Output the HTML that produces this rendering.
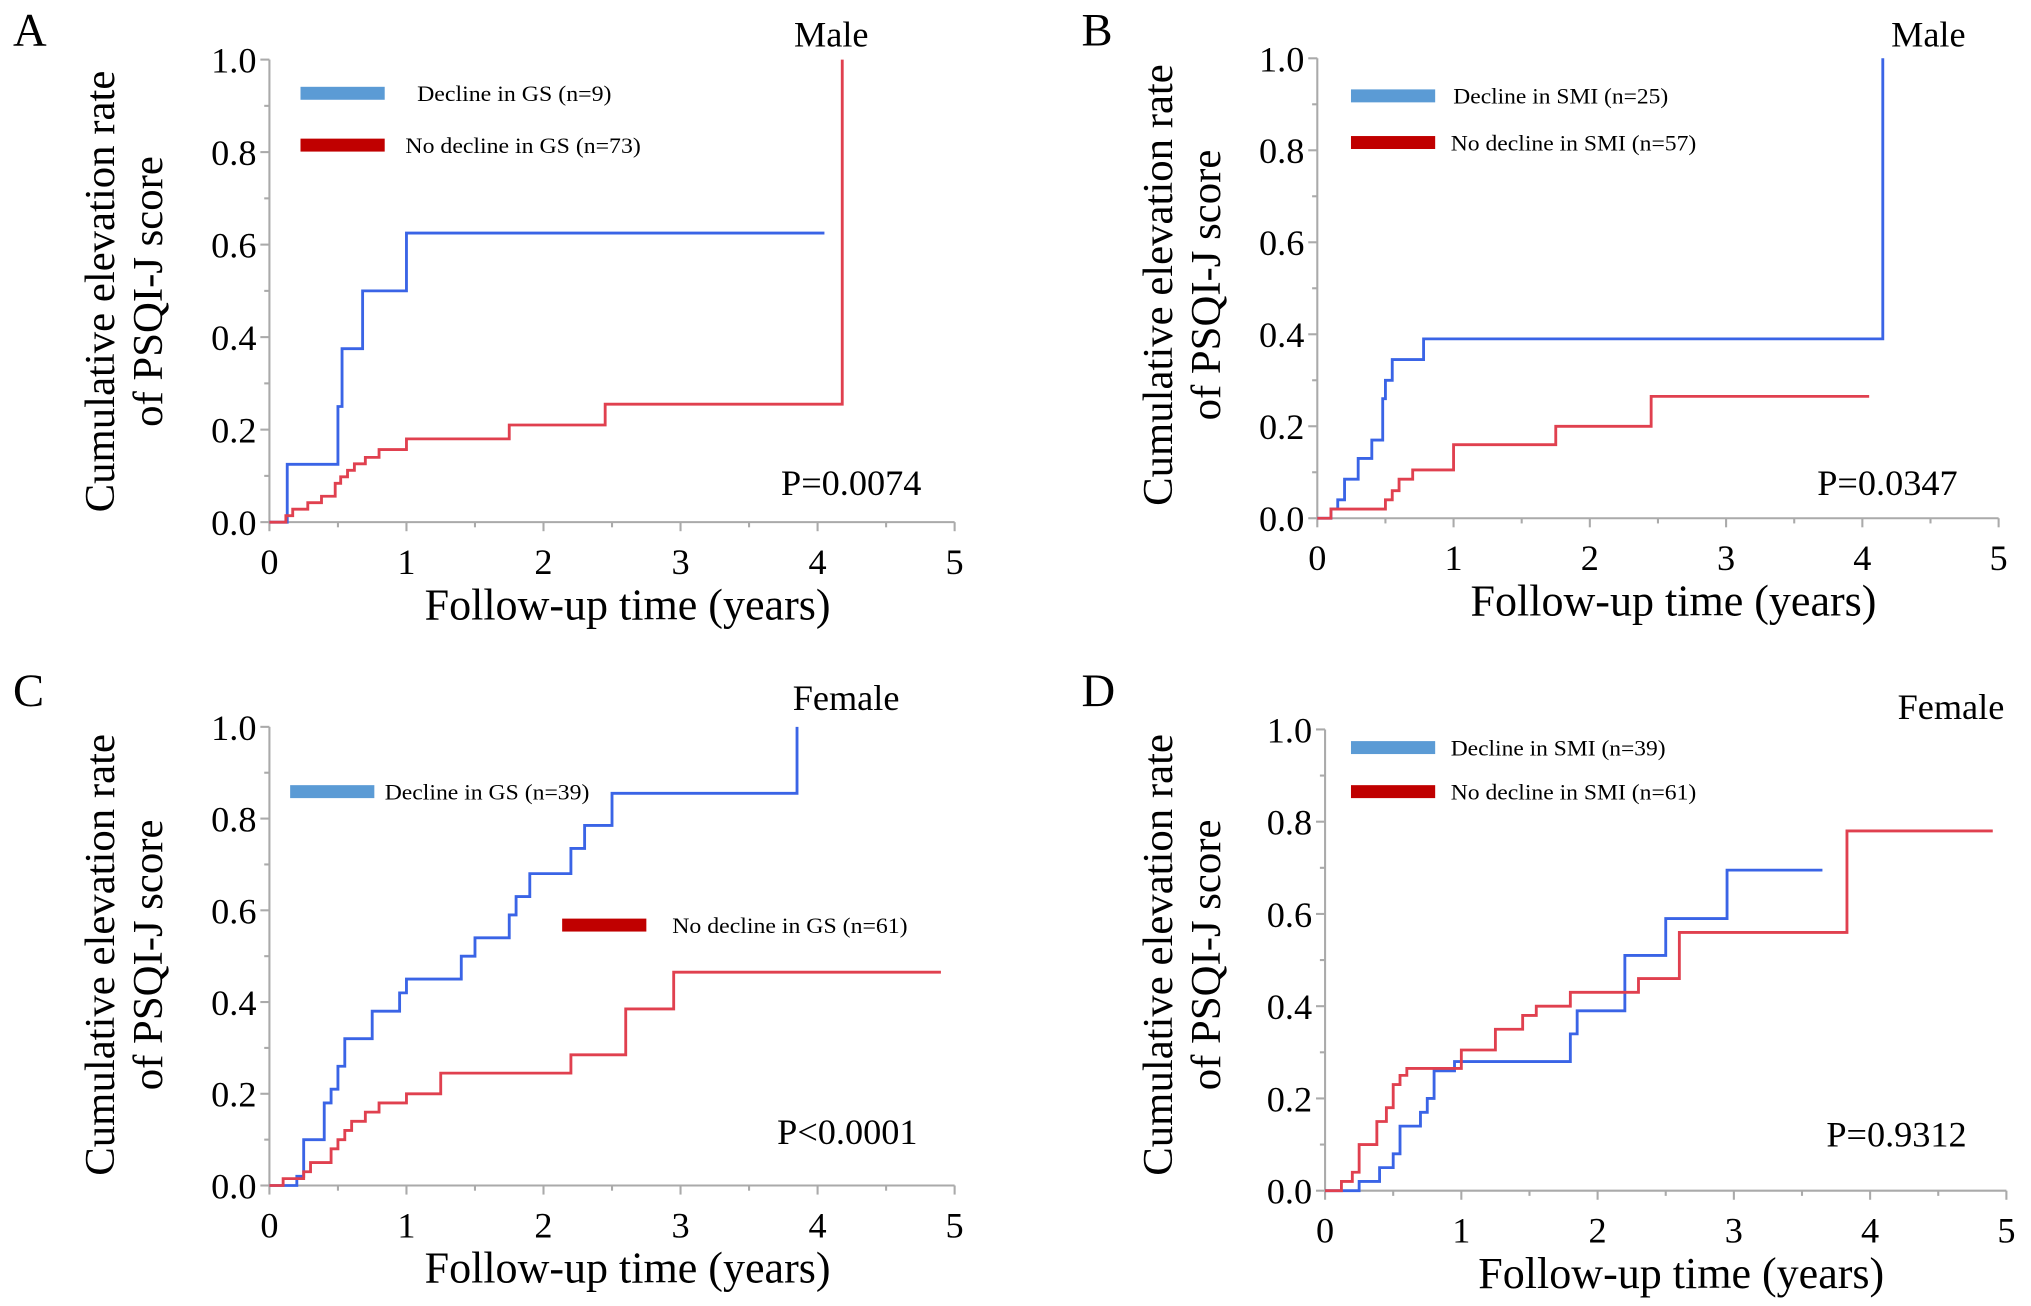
<!DOCTYPE html>
<html><head><meta charset="utf-8"><style>
html,body{margin:0;padding:0;background:#fff;}
svg{display:block;font-family:"Liberation Serif",serif;}
</style></head><body>
<svg id="fig" width="2031" height="1306" viewBox="0 0 1568 1008" preserveAspectRatio="none" xmlns="http://www.w3.org/2000/svg"></svg>
<script>
const xTicks = [0,1,2,3,4,5];
const yTicks = [0.0,0.2,0.4,0.6,0.8,1.0];
const yTickLabels = ["0.0","0.2","0.4","0.6","0.8","1.0"];
const aBlueT = [0,0.13,0.5,0.53,0.68,1.0,4.05];
const aBlueV = [0,0.125,0.25,0.375,0.5,0.625,0.625];
const aRedT = [0,0.12,0.17,0.28,0.38,0.48,0.52,0.57,0.62,0.7,0.8,1.0,1.75,2.45,4.18,4.18];
const aRedV = [0,0.014,0.028,0.042,0.056,0.084,0.098,0.112,0.126,0.14,0.157,0.18,0.21,0.255,0.255,1.0];
const bBlueT = [0,0.1,0.15,0.2,0.3,0.4,0.48,0.5,0.55,0.78,4.15,4.15];
const bBlueV = [0,0.02,0.04,0.085,0.13,0.17,0.26,0.3,0.345,0.39,0.39,1.0];
const bRedT = [0,0.1,0.5,0.55,0.6,0.7,1.0,1.75,2.45,4.05];
const bRedV = [0,0.02,0.04,0.06,0.085,0.105,0.16,0.2,0.265,0.265];
const cBlueT = [0,0.2,0.25,0.4,0.45,0.5,0.55,0.75,0.95,1.0,1.4,1.5,1.75,1.8,1.9,2.2,2.3,2.5,3.85,3.85];
const cBlueV = [0,0.02,0.1,0.18,0.21,0.26,0.32,0.38,0.42,0.45,0.5,0.54,0.59,0.63,0.68,0.735,0.785,0.855,0.855,1.0];
const cRedT = [0,0.1,0.25,0.3,0.45,0.5,0.55,0.6,0.7,0.8,1.0,1.25,2.2,2.6,2.95,4.9];
const cRedV = [0,0.015,0.03,0.05,0.08,0.1,0.12,0.14,0.16,0.18,0.2,0.245,0.285,0.385,0.465,0.465];
const dBlueT = [0,0.25,0.4,0.5,0.55,0.7,0.75,0.8,0.95,1.8,1.85,2.2,2.5,2.95,3.65];
const dBlueV = [0,0.02,0.05,0.08,0.14,0.17,0.2,0.26,0.28,0.34,0.39,0.51,0.59,0.695,0.695];
const dRedT = [0,0.12,0.2,0.25,0.38,0.45,0.5,0.55,0.6,1.0,1.25,1.45,1.55,1.8,2.3,2.6,3.83,4.9];
const dRedV = [0,0.02,0.04,0.1,0.15,0.18,0.23,0.25,0.265,0.305,0.35,0.38,0.4,0.43,0.46,0.56,0.78,0.78];

const NS="http://www.w3.org/2000/svg";
const svg=document.getElementById('fig');
function mk(tag,attrs,parent){const e=document.createElementNS(NS,tag);for(const k in attrs)e.setAttribute(k,attrs[k]);(parent||svg).appendChild(e);return e;}
function txt(s,attrs,parent){const e=mk('text',attrs,parent);e.textContent=s;return e;}

const panels=[
 {id:'a',letter:'A',lx:10,ly:35,x0:208,x5:737,y0:403,y1:46,sex:'Male',sx:613,sy:36,p:'P=0.0074',px:603,py:382,
  ytx:[88,125],yty:225,
  blue:[aBlueT,aBlueV],red:[aRedT,aRedV],
  leg:[{c:'#5b9bd5',x:232,y:72,t:'Decline in GS (n=9)',tx:322},{c:'#c00000',x:232,y:112,t:'No decline in GS (n=73)',tx:313}]},
 {id:'b',letter:'B',lx:835,ly:35,x0:1017,x5:1543,y0:400,y1:45,sex:'Male',sx:1460,sy:36,p:'P=0.0347',px:1403,py:382,
  ytx:[905,942],yty:220,
  blue:[bBlueT,bBlueV],red:[bRedT,bRedV],
  leg:[{c:'#5b9bd5',x:1043,y:74,t:'Decline in SMI (n=25)',tx:1122},{c:'#c00000',x:1043,y:110,t:'No decline in SMI (n=57)',tx:1120}]},
 {id:'c',letter:'C',lx:10,ly:545,x0:208,x5:737,y0:915,y1:561,sex:'Female',sx:612,sy:548,p:'P<0.0001',px:600,py:883,
  ytx:[88,125],yty:737,
  blue:[cBlueT,cBlueV],red:[cRedT,cRedV],
  leg:[{c:'#5b9bd5',x:224,y:611,t:'Decline in GS (n=39)',tx:297},{c:'#c00000',x:434,y:714,t:'No decline in GS (n=61)',tx:519}]},
 {id:'d',letter:'D',lx:835,ly:545,x0:1023,x5:1549,y0:919,y1:563,sex:'Female',sx:1465,sy:555,p:'P=0.9312',px:1410,py:885,
  ytx:[905,942],yty:737,
  blue:[dBlueT,dBlueV],red:[dRedT,dRedV],
  leg:[{c:'#5b9bd5',x:1043,y:577,t:'Decline in SMI (n=39)',tx:1120},{c:'#c00000',x:1043,y:611,t:'No decline in SMI (n=61)',tx:1120}]}
];

panels.forEach(P=>{
  const g=mk('g',{});
  
  
  const X=t=>P.x0+(P.x5-P.x0)*t/5;
  const Y=v=>P.y0-(P.y0-P.y1)*v;
  const l=txt(P.letter,{x:P.lx,y:P.ly,'font-size':36},g);
  
  
  const s=txt(P.sex,{x:P.sx,y:P.sy,'font-size':28},g);
  
  
  const pv=txt(P.p,{x:P.px,y:P.py,'font-size':28},g);
  
  
  const ax=mk('g',{stroke:'#aaa','stroke-width':1.6,fill:'none'},g);
  
  
  mk('line',{x1:P.x0,y1:P.y0,x2:P.x5,y2:P.y0},ax);
  mk('line',{x1:P.x0,y1:P.y0,x2:P.x0,y2:P.y1},ax);
  for(let i=0;i<=10;i++){const x=X(i/2);mk('line',{x1:x,y1:P.y0,x2:x,y2:P.y0+(i%2?4:7)},ax);}
  for(let i=0;i<=10;i++){const y=Y(i/10);mk('line',{x1:P.x0,y1:y,x2:P.x0-(i%2?4:7),y2:y},ax);}
  xTicks.forEach(t=>{const e=txt(String(t),{x:X(t),y:P.y0+40,'font-size':28,'text-anchor':'middle'},g);
    
    });
  yTicks.forEach((v,i)=>{const e=txt(yTickLabels[i],{x:P.x0-10,y:Y(v)+10,'font-size':28,'text-anchor':'end'},g);
    
    });
  const xt=txt('Follow-up time (years)',{x:(P.x0+P.x5)/2+12,y:P.y0+75,'font-size':34,'text-anchor':'middle'},g);
  
  
  const yt=mk('text',{transform:`translate(${P.ytx[0]},${P.yty}) rotate(-90)`,'font-size':33,'text-anchor':'middle'},g);
  
  
  const t1=mk('tspan',{x:0,y:0},yt);t1.textContent='Cumulative elevation rate';
  const t2=mk('tspan',{x:0,y:P.ytx[1]-P.ytx[0]},yt);t2.textContent='of PSQI-J score';
  [['blue','#3a64e6'],['red','#e0404f']].forEach(([k,col])=>{
    const [T,V]=P[k];let d=`M${X(T[0])},${Y(V[0])}`;
    for(let i=1;i<T.length;i++){d+=` H${X(T[i])} V${Y(V[i])}`;}
    const path=mk('path',{d:d,fill:'none',stroke:col,'stroke-width':2.2},g);
    
    
  });
  P.leg.forEach((L,i)=>{
    const lg=mk('g',{},g);
    
    
    mk('rect',{x:L.x,y:L.y-5,width:65,height:10,fill:L.c},lg);
    txt(L.t,{x:L.tx,y:L.y+6,'font-size':17,textLength:L.t.length*7.9,lengthAdjust:'spacingAndGlyphs'},lg);
  });
});
</script>
</body></html>
